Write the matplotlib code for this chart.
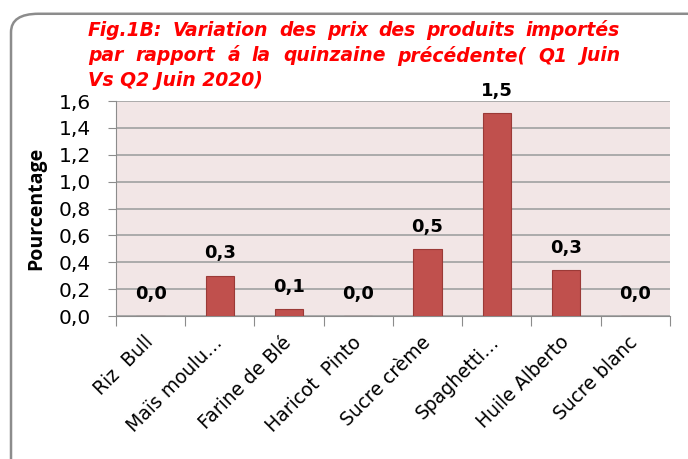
import numpy as np
import matplotlib.pyplot as plt
import matplotlib.transforms as mtransforms
from matplotlib.patches import FancyBboxPatch

plt.rcParams['font.family'] = ['DejaVu Sans']

produits = ['Riz  Bull', 'Maïs moulu…', 'Farine de Blé', 'Haricot  Pinto',
            'Sucre crème', 'Spaghetti…', 'Huile Alberto', 'Sucre blanc']
variation = [0.0, 0.30, 0.05, 0.0, 0.50, 1.51, 0.34, 0.0]
etiquettes = ['0,0', '0,3', '0,1', '0,0', '0,5', '1,5', '0,3', '0,0']
y_ticks = np.arange(0, 1.61, 0.2)

titre = ['Fig.1B: Variation des prix des produits importés',
         'par rapport á la quinzaine précédente( Q1 Juin',
         'Vs Q2 Juin 2020)']

fig = plt.figure(figsize=(6.88, 4.59), dpi=100)

# cadre arrondi autour du graphique
cadre = FancyBboxPatch((0.016, -0.05), 1.05, 1.02, transform=fig.transFigure,
                       boxstyle='round,pad=0,rounding_size=0.04',
                       facecolor='none', edgecolor='#8c8c8c', linewidth=1.8, zorder=0)
fig.patches.append(cadre)

ax = fig.add_axes([0.1686, 0.3115, 0.805, 0.4684])
ax.set_facecolor('#f2e6e6')

x = np.arange(len(produits))
ax.bar(x, variation, width=0.41, color='#c0504d', edgecolor='#9b3a37', linewidth=0.8, zorder=3)

for xi, v, lab in zip(x, variation, etiquettes):
    ax.annotate(lab, (xi, v), xytext=(0, 16), textcoords='offset points',
                ha='center', va='center', fontsize=13, fontweight='bold', color='black')

ax.set_xlim(-0.5, len(produits) - 0.5)
ax.set_ylim(0, 1.6)
ax.set_yticks(y_ticks)
ax.set_yticklabels([f'{t:.1f}'.replace('.', ',') for t in y_ticks], fontsize=14.5)
ax.yaxis.grid(True, color='#a6a6a6', linewidth=1.3, zorder=1)
ax.set_axisbelow(True)

ax.set_xticks(np.arange(len(produits) + 1) - 0.5, minor=False)
ax.set_xticklabels([])
ax.set_xticks(x, minor=True)
ax.set_xticklabels(produits, minor=True, rotation=45, ha='right', va='top',
                   rotation_mode='anchor', fontsize=13.5)
ax.tick_params(axis='x', which='minor', length=0, pad=12)
ax.tick_params(axis='x', which='major', length=7, color='#8c8c8c')
ax.tick_params(axis='y', length=6, color='#8c8c8c', pad=12)

# décalage des étiquettes vers la gauche
decal = mtransforms.ScaledTranslation(-7 / 100, 0, fig.dpi_scale_trans)
for lab in ax.xaxis.get_minorticklabels():
    lab.set_transform(lab.get_transform() + decal)

for side in ['top', 'right']:
    ax.spines[side].set_visible(False)
ax.spines['left'].set_color('#8c8c8c')
ax.spines['bottom'].set_color('#8c8c8c')

ax.set_ylabel('Pourcentage', fontsize=14, fontweight='bold', labelpad=9,
              family=['Open Sans', 'DejaVu Sans'])

# titre justifié sur les deux premières lignes
x0, x1 = 88 / 688, 620 / 688
taille = 13.5
r = fig.canvas.get_renderer()
for i, ligne in enumerate(titre):
    y = 1 - (30 + 25.5 * i) / 459
    mots = ligne.split(' ')
    if i < 2:
        largeurs = []
        for m in mots:
            t = fig.text(0, 0, m, fontsize=taille, fontweight='bold', fontstyle='italic')
            largeurs.append(t.get_window_extent(r).width / 688)
            t.remove()
        esp = (x1 - x0 - sum(largeurs)) / (len(mots) - 1)
        pos = x0
        for m, w in zip(mots, largeurs):
            fig.text(pos, y, m, color='red', fontsize=taille, fontweight='bold',
                     fontstyle='italic', ha='left', va='center')
            pos += w + esp
    else:
        fig.text(x0, y, ligne, color='red', fontsize=taille, fontweight='bold',
                 fontstyle='italic', ha='left', va='center')

fig.savefig('out.png', dpi=100)
